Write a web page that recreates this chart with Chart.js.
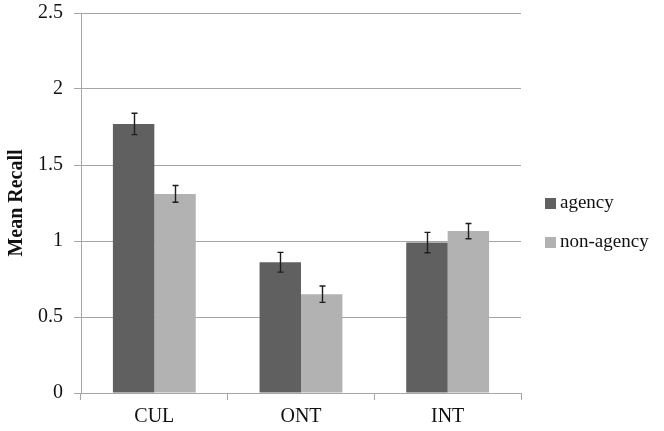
<!DOCTYPE html>
<html>
<head>
<meta charset="utf-8">
<script src="https://cdn.jsdelivr.net/npm/chart.js@4/dist/chart.umd.min.js"></script>
<style>
  html, body { margin: 0; padding: 0; background: #fff; }
  #wrap { width: 664px; height: 431px; }
</style>
</head>
<body>
<div id="wrap"><canvas id="recallChart" width="664" height="431"></canvas></div>
<script>
// data
const categories = ['CUL', 'ONT', 'INT'];
const agency = [1.77, 0.86, 0.99];
const agencyErr = [0.07, 0.065, 0.067];
const nonAgency = [1.31, 0.65, 1.065];
const nonAgencyErr = [0.055, 0.054, 0.05];
const yTicks = [0, 0.5, 1, 1.5, 2, 2.5];

const serif = '"Liberation Serif", "Times New Roman", serif';
const gridGray = '#a6a6a6';

// simple error bar plugin, uses the scale to place whiskers
const errorBars = {
	id: 'errorBars',
	afterDatasetsDraw(chart) {
		const ctx = chart.ctx;
		const yScale = chart.scales.y;
		ctx.save();
		ctx.strokeStyle = '#1e1e1e';
		ctx.lineWidth = 1.4;
		chart.data.datasets.forEach((ds, di) => {
			const meta = chart.getDatasetMeta(di);
			meta.data.forEach((bar, i) => {
				const v = ds.data[i];
				const e = ds.errors[i];
				const top = yScale.getPixelForValue(v + e);
				const bot = yScale.getPixelForValue(v - e);
				const x = Math.round(bar.x) + 0.5;
				ctx.beginPath();
				ctx.moveTo(x, top); ctx.lineTo(x, bot);
				ctx.moveTo(x - 3, top); ctx.lineTo(x + 3, top);
				ctx.moveTo(x - 3, bot); ctx.lineTo(x + 3, bot);
				ctx.stroke();
			});
		});
		ctx.restore();
	}
};

// legend on the right, placed next to the plot area like the original
const sideLegend = {
	id: 'sideLegend',
	afterDraw(chart) {
		const ctx = chart.ctx;
		const area = chart.chartArea;
		const mid = (area.top + area.bottom) / 2;
		ctx.save();
		ctx.font = '19px ' + serif;
		ctx.textBaseline = 'middle';
		chart.data.datasets.forEach((ds, i) => {
			const y = mid + i * 39;
			ctx.fillStyle = ds.backgroundColor;
			ctx.fillRect(area.right + 24, y - 5, 11, 11);
			ctx.fillStyle = '#111';
			ctx.fillText(ds.label, area.right + 39, y);
		});
		ctx.restore();
	}
};

new Chart(document.getElementById('recallChart'), {
	type: 'bar',
	data: {
		labels: categories,
		datasets: [
			{ label: 'agency', data: agency, errors: agencyErr, backgroundColor: '#606060' },
			{ label: 'non-agency', data: nonAgency, errors: nonAgencyErr, backgroundColor: '#b2b2b2' }
		]
	},
	options: {
		responsive: false,
		animation: false,
		devicePixelRatio: 1,
		categoryPercentage: 0.565,
		barPercentage: 1,
		layout: { padding: { top: 13, right: 143, bottom: 0, left: 0 } },
		plugins: {
			tooltip: { enabled: false },
			legend: { display: false }
		},
		scales: {
			x: {
				afterFit: (axis) => { axis.height = 38; },
				grid: { display: true, drawOnChartArea: false, drawTicks: true, tickLength: 7, color: gridGray, offset: true },
				border: { color: gridGray },
				ticks: { font: { family: serif, size: 20 }, color: '#111', padding: 5 }
			},
			y: {
				min: 0,
				max: 2.5,
				afterBuildTicks: (axis) => { axis.ticks = yTicks.map(v => ({ value: v })); },
				afterFit: (axis) => {
					axis.width = 81;
					axis.paddingTop = 0;
					axis.paddingBottom = 0;
				},
				grid: { color: gridGray, tickLength: 7 },
				border: { color: gridGray },
				ticks: {
					font: { family: serif, size: 20 },
					color: '#111',
					padding: 11,
					callback: (v) => String(v)
				},
				title: {
					display: true,
					text: 'Mean Recall',
					font: { family: serif, size: 20, weight: 'bold' },
					color: '#111',
					padding: { top: 5, bottom: 4 }
				}
			}
		}
	},
	plugins: [errorBars, sideLegend]
});
</script>
</body>
</html>
